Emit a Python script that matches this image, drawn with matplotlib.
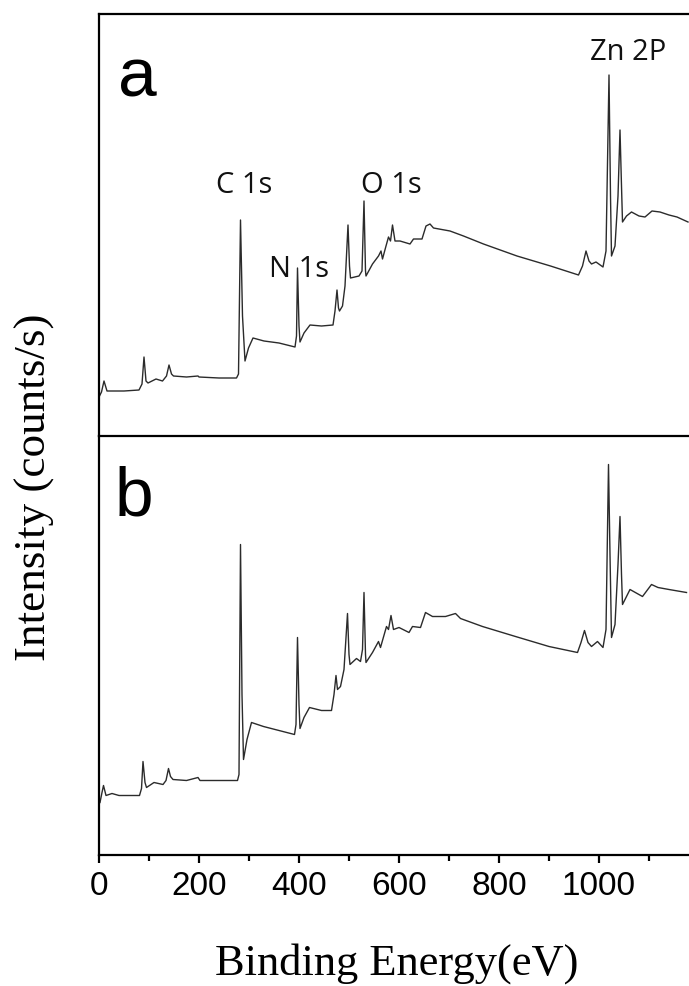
import matplotlib
matplotlib.use("Agg")
import matplotlib.pyplot as plt
from matplotlib.ticker import MultipleLocator

# --- spectrum (a): binding energy (eV) vs intensity (a.u.) -----------------
energy_a = [0, 5, 10, 16, 22, 50, 80, 86, 90, 94, 98, 114, 127, 135, 140, 145,
            149, 175, 198, 200, 240, 275, 279, 283, 287, 292, 299, 308, 330,
            360, 392, 395, 397, 400, 402, 410, 422, 445, 468, 472, 476, 479,
            481, 487, 492, 498, 501, 503, 520, 526, 530, 533, 534, 547, 559,
            564, 567, 574, 579, 583, 587, 592, 602, 622, 629, 646, 654, 662,
            669, 702, 729, 769, 836, 903, 959, 967, 974, 980, 985, 994, 1008,
            1014, 1020, 1023, 1025, 1032, 1038, 1042, 1045, 1047, 1055, 1065,
            1080, 1092, 1106, 1122, 1140, 1156, 1178]
intensity_a = [39, 44, 55, 45, 45, 45, 46, 52, 79, 55, 53, 57, 55, 60, 71, 62,
               60, 59, 60, 59, 58, 58, 62, 216, 120, 75, 88, 98, 95,
               93, 89, 100, 168, 110, 94, 103, 111, 110, 111, 125, 146, 128,
               125, 130, 150, 211, 170, 158, 160, 165, 235, 165, 160, 172, 180,
               185, 177, 190, 199, 195, 211, 195, 195, 192, 197, 197, 210, 212,
               208, 205, 200, 192, 180, 170, 161, 170, 185, 175, 172, 174, 169,
               185, 361, 240, 180, 190, 240, 306, 250, 214, 220, 224,
               220, 219, 225, 224, 221, 219, 214]

# --- spectrum (b) ----------------------------------------------------------
energy_b = [2, 6, 9, 14, 26, 40, 81, 85, 88, 92, 95, 110, 128, 134, 139, 143,
            148, 175, 198, 202, 240, 277, 280, 283, 286, 289, 296, 305, 329,
            360, 391, 394, 397, 400, 402, 410, 421, 445, 465, 470, 474, 477,
            483, 490, 497, 500, 502, 515, 523, 527, 530, 533, 534, 547, 559,
            563, 575, 579, 584, 589, 600, 620, 627, 643, 653, 667, 693, 713,
            723, 767, 833, 900, 957, 964, 971, 978, 985, 997, 1008, 1014, 1019,
            1022, 1025, 1032, 1038, 1042, 1045, 1047, 1062, 1087, 1105, 1118,
            1140, 1175]
intensity_b = [52, 62, 69, 59, 61, 59, 59, 66, 93, 72, 67, 72, 70, 74, 86, 78,
               75, 74, 77, 74, 74, 74, 80, 310, 160, 95, 115, 132, 128,
               124, 120, 130, 217, 150, 126, 137, 147, 144, 144, 160, 179, 165,
               168, 185, 241, 200, 190, 196, 193, 205, 262, 200, 192, 202, 213,
               207, 228, 225, 239, 225, 227, 222, 228, 227, 242, 238, 238, 241,
               236, 228, 218, 208, 202, 212, 224, 212, 208, 213, 207, 225, 390,
               300, 217, 230, 290, 338, 280, 250, 265, 258, 270, 267,
               265, 262]

# peak labels for panel (a): (text, energy, intensity at baseline)
peak_labels = ["C 1s", "N 1s", "O 1s", "Zn 2P"]
peak_label_x = [290, 400, 584, 1058]
peak_label_y = [244, 160, 244, 377]

W, H = 689, 987
fig = plt.figure(figsize=(W / 100, H / 100), dpi=100)
left, right = 99 / W, 1.0
ax_a = fig.add_axes([left, 1 - 437 / H, right - left, 422 / H])
ax_b = fig.add_axes([left, 1 - 855.5 / H, right - left, 418.5 / H])

line_kw = dict(color="#2b2b2b", lw=1.0)
ax_a.plot(energy_a, intensity_a, **line_kw)
ax_b.plot(energy_b, intensity_b, **line_kw)

ax_a.set_ylim(0, 422)
ax_b.set_ylim(0, 418.5)
for ax in (ax_a, ax_b):
    ax.set_xlim(0, 1180)
    ax.set_yticks([])
    ax.spines["right"].set_visible(False)
    for s in ("left", "top", "bottom"):
        ax.spines[s].set_linewidth(1.6)
ax_a.spines["bottom"].set_visible(False)
ax_a.set_xticks([])

ax_b.xaxis.set_major_locator(MultipleLocator(200))
ax_b.xaxis.set_minor_locator(MultipleLocator(100))
ax_b.tick_params(axis="x", which="major", direction="out", length=6, width=1.6,
                 pad=5, labelsize=24)
ax_b.tick_params(axis="x", which="minor", direction="out", length=4, width=1.6)
for lbl in ax_b.get_xticklabels():
    lbl.set_family("Liberation Sans")

for txt, x, y in zip(peak_labels, peak_label_x, peak_label_y):
    ax_a.text(x, y, txt, ha="center", va="baseline", fontsize=21,
              family="Open Sans", color="#111111")

ax_a.text(0.032, 0.806, "a", transform=ax_a.transAxes, fontsize=50,
          family="Liberation Sans", va="baseline", ha="left")
ax_b.text(0.027, 0.8136, "b", transform=ax_b.transAxes, fontsize=50,
          family="Liberation Sans", va="baseline", ha="left")

fig.text(35 / W, 1 - 487.5 / H, "Intensity (counts/s)", rotation=90,
         ha="center", va="center", fontsize=32.5, family="Liberation Serif")
fig.text(397 / W, 1 - 975 / H, "Binding Energy(eV)", ha="center",
         va="baseline", fontsize=32, family="Liberation Serif")

fig.savefig("out.png", dpi=100)
